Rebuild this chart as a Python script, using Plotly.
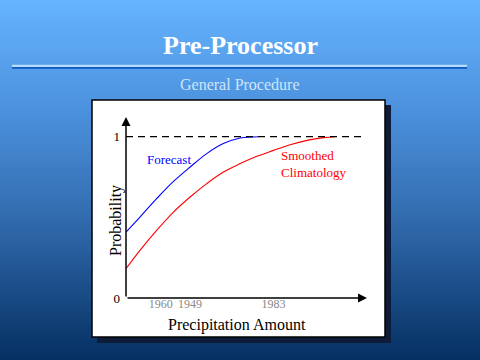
import plotly.graph_objects as go

# ---- data (x in arbitrary precipitation units, y probability) ----
forecast_x = [0, 0.58, 1.27, 1.97, 2.66, 3.35, 4.04, 4.74, 5.50]
forecast_p = [0.409, 0.502, 0.616, 0.723, 0.812, 0.895, 0.957, 0.992, 1.0]
clim_x = [0, 0.58, 1.27, 1.97, 2.66, 3.35, 4.04, 4.74, 5.43, 6.12, 6.81, 7.51, 8.20, 8.68]
clim_p = [0.182, 0.295, 0.419, 0.533, 0.626, 0.709, 0.781, 0.833, 0.878, 0.915, 0.950, 0.977, 0.994, 1.0]
year_ticks = [1.44, 2.66, 6.12]
year_labels = ["1960", "1949", "1983"]
dash_end = 9.79
x_max = 10.0
y_max = 1.122

W, H = 480, 360
SERIF = "Liberation Serif, Times New Roman, serif"

def px(x):
    return x / W

def py(y):
    return 1 - y / H

shapes = []
# background gradient
stops = [(0, (102, 179, 255)), (0.3, (76, 146, 222)), (0.6, (50, 108, 175)), (1.0, (5, 48, 98))]
def grad(t):
    for (t0, c0), (t1, c1) in zip(stops[:-1], stops[1:]):
        if t <= t1:
            f = (t - t0) / (t1 - t0)
            return tuple(int(round(a + (b - a) * f)) for a, b in zip(c0, c1))
    return stops[-1][1]

n = 120
for i in range(n):
    y0 = i * H / n
    y1 = (i + 1) * H / n
    r, g, b = grad((i + 0.5) / n)
    shapes.append(dict(type="rect", xref="paper", yref="paper", x0=0, x1=1,
                       y0=py(y1 + 0.3), y1=py(y0), fillcolor=f"rgb({r},{g},{b})",
                       line=dict(width=0), layer="below"))

# title rule
shapes.append(dict(type="rect", xref="paper", yref="paper", x0=px(12), x1=px(467),
                   y0=py(67), y1=py(64.8), fillcolor="#b6dcff", line=dict(width=0), layer="below"))
shapes.append(dict(type="rect", xref="paper", yref="paper", x0=px(12), x1=px(467),
                   y0=py(68.8), y1=py(67), fillcolor="#0a5ac2", line=dict(width=0), layer="below"))

# box shadow and box
shapes.append(dict(type="rect", xref="paper", yref="paper", x0=px(97), x1=px(391),
                   y0=py(343), y1=py(105), fillcolor="rgb(14,28,58)", line=dict(width=0), layer="below"))
shapes.append(dict(type="rect", xref="paper", yref="paper", x0=px(92), x1=px(385),
                   y0=py(337), y1=py(100), fillcolor="white", line=dict(color="black", width=1.5), layer="below"))

# dashed line at probability 1
shapes.append(dict(type="line", xref="x", yref="y", x0=0, x1=dash_end, y0=1, y1=1,
                   line=dict(color="black", width=1.2, dash="7px,5px")))

fig = go.Figure()
fig.add_trace(go.Scatter(x=forecast_x, y=forecast_p, mode="lines",
                         line=dict(color="#0000ff", width=1.1, shape="spline"),
                         showlegend=False, hoverinfo="skip"))
fig.add_trace(go.Scatter(x=clim_x, y=clim_p, mode="lines",
                         line=dict(color="#ff0000", width=1.1, shape="spline"),
                         showlegend=False, hoverinfo="skip"))

annotations = [
    # axes with arrowheads
    dict(x=x_max, y=0, ax=0, ay=0, xref="x", yref="y", axref="x", ayref="y",
         showarrow=True, arrowhead=2, arrowsize=1.2, arrowwidth=1.5, arrowcolor="black", text=""),
    dict(x=0, y=y_max, ax=0, ay=0, xref="x", yref="y", axref="x", ayref="y",
         showarrow=True, arrowhead=2, arrowsize=1.2, arrowwidth=1.5, arrowcolor="black", text=""),
    # titles
    dict(text="<b>Pre-Processor</b>", x=0.5, y=py(45), xref="paper", yref="paper",
         showarrow=False, font=dict(family=SERIF, size=26, color="white"), yanchor="middle"),
    dict(text="General Procedure", x=0.5, y=py(84.5), xref="paper", yref="paper",
         showarrow=False, font=dict(family=SERIF, size=16, color="#cfe4f8"), yanchor="middle"),
    # axis titles
    dict(text="Precipitation Amount", x=px(237), y=py(325), xref="paper", yref="paper",
         showarrow=False, font=dict(family=SERIF, size=16, color="black"), yanchor="middle"),
    dict(text="Probability", x=px(105), y=py(221), xref="paper", yref="paper", textangle=-90,
         showarrow=False, font=dict(family=SERIF, size=16, color="black"), yanchor="middle"),
    # curve labels
    dict(text="Forecast", x=px(145), y=py(159.5), xref="paper", yref="paper", xanchor="left",
         showarrow=False, font=dict(family=SERIF, size=13, color="#0000ff"), yanchor="middle"),
    dict(text="Smoothed<br>Climatology", x=px(279), y=py(164), xref="paper", yref="paper",
         xanchor="left", align="left",
         showarrow=False, font=dict(family=SERIF, size=13, color="#ff0000"), yanchor="middle"),
]

fig.update_layout(
    width=W, height=H,
    margin=dict(l=0, r=0, t=0, b=0, pad=0, autoexpand=False),
    paper_bgcolor="rgb(5,48,98)",
    plot_bgcolor="rgba(0,0,0,0)",
    showlegend=False,
    shapes=shapes,
    annotations=annotations,
    xaxis=dict(domain=[px(126), px(367)], range=[0, x_max], showgrid=False, zeroline=False,
               showline=False, tickvals=year_ticks, ticktext=year_labels, ticks="",
               ticklabelstandoff=-3, automargin=False,
               tickfont=dict(family=SERIF, size=12, color="#888888"), fixedrange=True),
    yaxis=dict(domain=[py(298), py(117)], range=[0, y_max], showgrid=False, zeroline=False,
               showline=False, tickvals=[0, 1], ticktext=["0", "1"], ticks="",
               ticklabelstandoff=5, automargin=False,
               tickfont=dict(family=SERIF, size=13, color="black"), fixedrange=True),
)

fig.write_html("out.html", config={"displayModeBar": False},
               post_script="document.body.style.margin='0';document.body.style.overflow='hidden';")
